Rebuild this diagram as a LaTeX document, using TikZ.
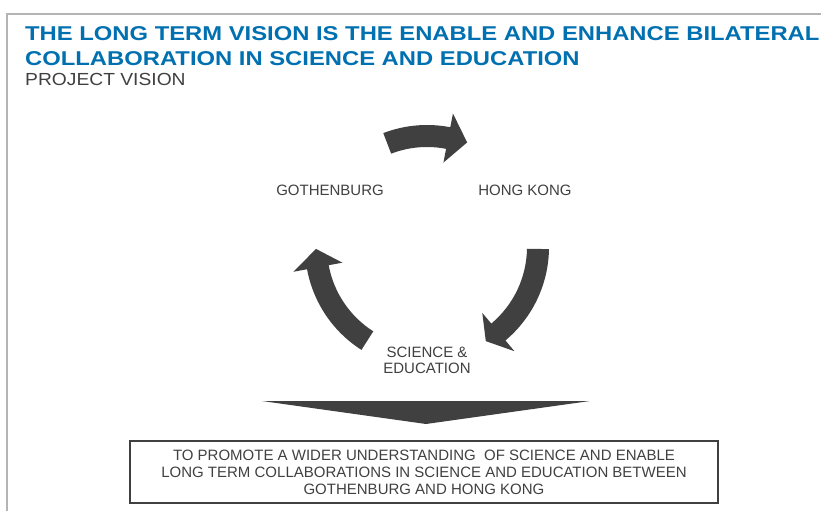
\documentclass[tikz,border=0pt]{standalone}
\usepackage{fontspec}
\setmainfont{Liberation Sans}
\newfontfamily\titlefont[FakeStretch=1.19]{Liberation Sans}
\newfontfamily\subfont[FakeStretch=1.1]{Liberation Sans}
\usetikzlibrary{calc}
\definecolor{titleblue}{RGB}{0,112,176}
\definecolor{darkgrey}{RGB}{64,64,64}
\definecolor{framegrey}{RGB}{180,180,180}
\tikzset{
  title text/.style={anchor=base west, inner sep=0pt, text=titleblue,
    font=\titlefont\bfseries\fontsize{20}{24}\selectfont},
  label text/.style={text=darkgrey, align=center, inner sep=0pt,
    font=\fontsize{15}{16}\selectfont},
  arrow fill/.style={fill=darkgrey}
}
\begin{document}
\begin{tikzpicture}[x=1pt,y=1pt]
  \useasboundingbox (0,0) rectangle (821,-511);
  \draw[framegrey, line width=2pt] (7,-511) -- (7,-14) -- (821,-14);
  \node[title text] (title1) at (25,-41) {THE LONG TERM VISION IS THE ENABLE AND ENHANCE BILATERAL};
  \node[title text] (title2) at (25,-65) {COLLABORATION IN SCIENCE AND EDUCATION};
  \node[anchor=base west, inner sep=0pt, text=darkgrey,
    font=\subfont\fontsize{17.5}{20}\selectfont] (subtitle) at (25,-85) {PROJECT VISION};
  \node[label text] (gothenburg) at (330,-190) {GOTHENBURG};
  \node[label text] (hongkong) at (525,-190) {HONG KONG};
  \node[label text] (science) at (427,-360) {SCIENCE \&\\EDUCATION};
  \coordinate (c) at (427,-247);
  \begin{scope}[shift={(c)}]
    \fill[arrow fill] (111:122) arc[start angle=111, end angle=79, radius=122]
      -- (79:136) -- (69:112) -- (79:86) -- (79:100)
      arc[start angle=79, end angle=111, radius=100] -- cycle;
    \fill[arrow fill] (-1:122) arc[start angle=-1, end angle=-50, radius=122]
      -- (-50:136) -- (-58:111) -- (-50:86) -- (-50:100)
      arc[start angle=-50, end angle=-1, radius=100] -- cycle;
    \fill[arrow fill] (237.5:122) arc[start angle=237.5, end angle=190.5, radius=122]
      -- (190.5:136) -- (181:111) -- (190.5:86) -- (190.5:100)
      arc[start angle=190.5, end angle=237.5, radius=100] -- cycle;
  \end{scope}
  \fill[arrow fill] (262,-401) -- (590,-401) -- (426,-424) -- cycle;
  \node[draw=darkgrey, line width=1.5pt, minimum width=588, minimum height=62,
    text=darkgrey, align=center, font=\fontsize{15}{17}\selectfont]
    (goal) at (424,-472)
    {TO PROMOTE A WIDER UNDERSTANDING \ OF SCIENCE AND ENABLE\\
     LONG TERM COLLABORATIONS IN SCIENCE AND EDUCATION BETWEEN\\
     GOTHENBURG AND HONG KONG};
\end{tikzpicture}
\end{document}
